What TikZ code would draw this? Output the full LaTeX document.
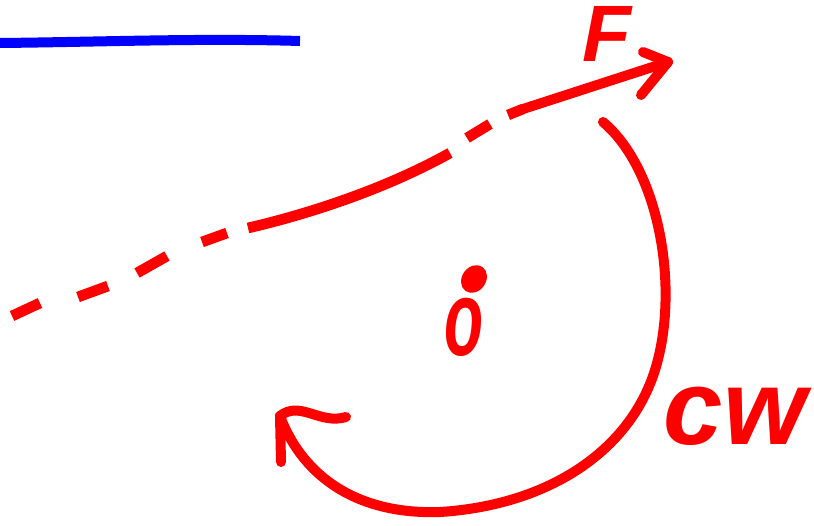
\documentclass[tikz,border=0pt]{standalone}
\usepackage{fontspec}
\setmainfont{Liberation Sans}
\begin{document}
\begin{tikzpicture}[x=0.75pt,y=-0.75pt,
  redstroke/.style={draw=red,line width=7.5pt,line cap=round,line join=round},
  dashseg/.style={draw=red,line width=8pt,line cap=butt},
  lbl/.style={text=red,font=\bfseries\itshape,inner sep=0pt}]
\useasboundingbox (0,0) rectangle (814,525);
% blue line
\draw[blue,line width=7.5pt,line cap=butt] (0,43) .. controls (100,42) and (200,38) .. (300,41);
% dashed force line of action
\draw[dashseg] (12,316) -- (40,303);
\draw[dashseg] (78,297) -- (108,286);
\draw[dashseg] (137,273) -- (167,256);
\draw[dashseg] (202,242) -- (227,233);
\draw[dashseg] (248,228) .. controls (300,216) and (380,192) .. (450,153);
\draw[dashseg] (467,138) -- (490,124);
\draw[dashseg] (508,115) -- (523,109);
% force arrow
\coordinate (fs) at (523,109);
\coordinate (ft) at (668,62);
\draw[redstroke] (fs) -- (ft);
\draw[redstroke] (643,52) -- (ft) -- (641,95);
\node[lbl,font=\bfseries\itshape\fontsize{60}{60}\selectfont] (F) at (607,34) {F};
% pivot
\node[lbl,font=\bfseries\itshape\fontsize{80}{80}\selectfont,xscale=0.6,transform shape] (O) at (464,327) {o};
\fill[red] (474,279) circle [x radius=9pt, y radius=11pt, rotate=-35];
% clockwise arc
\coordinate (a0) at (603,122);
\coordinate (a1) at (280,416);
\draw[redstroke] (a0) .. controls (660,170) and (680,290) .. (655,370)
  .. controls (630,450) and (550,505) .. (440,512)
  .. controls (350,515) and (300,470) .. (a1);
\draw[redstroke] (346,417) .. controls (320,425) and (300,400) .. (a1) -- (281,462);
\node[lbl,font=\bfseries\itshape\fontsize{80}{80}\selectfont] (cw) at (735,416) {cw};
\end{tikzpicture}
\end{document}
